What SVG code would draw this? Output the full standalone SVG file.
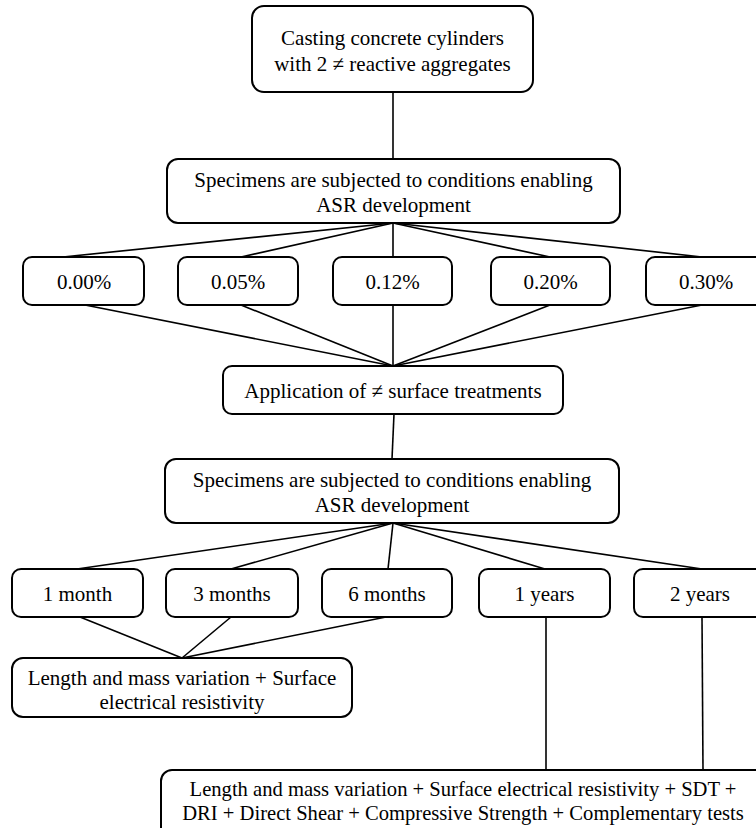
<svg xmlns="http://www.w3.org/2000/svg" width="756" height="828" viewBox="0 0 756 828">
<style>
.box{fill:#fff;stroke:#000;stroke-width:2}
.t{font-family:'Liberation Serif','Tinos','DejaVu Serif',serif;font-size:21px;fill:#000;text-anchor:middle}
.c line{stroke:#000;stroke-width:1.6}
</style>
<rect width="756" height="828" fill="#fff"/>
<g class="c" id="connectors">
<line x1="393" y1="92" x2="393" y2="159"/>
<line x1="393" y1="223" x2="63" y2="257"/>
<line x1="393" y1="223" x2="241" y2="257"/>
<line x1="393" y1="223" x2="393" y2="257"/>
<line x1="393" y1="223" x2="550" y2="257"/>
<line x1="393" y1="223" x2="702" y2="257"/>
<line x1="85" y1="305" x2="393" y2="366"/>
<line x1="241" y1="305" x2="393" y2="366"/>
<line x1="393" y1="305" x2="393" y2="366"/>
<line x1="550" y1="305" x2="393" y2="366"/>
<line x1="702" y1="305" x2="393" y2="366"/>
<line x1="394" y1="414" x2="392" y2="459"/>
<line x1="393" y1="523" x2="77" y2="569"/>
<line x1="393" y1="523" x2="231" y2="569"/>
<line x1="393" y1="523" x2="388" y2="569"/>
<line x1="393" y1="523" x2="545" y2="569"/>
<line x1="393" y1="523" x2="702" y2="569"/>
<line x1="80" y1="617" x2="182" y2="658"/>
<line x1="231" y1="617" x2="182" y2="658"/>
<line x1="386" y1="617" x2="182" y2="658"/>
<line x1="546" y1="617" x2="546" y2="770"/>
<line x1="702" y1="617" x2="703" y2="770"/>
</g>
<g id="casting"><rect class="box" x="252" y="6" width="281" height="86" rx="12"/>
<text class="t" x="392.5" y="45">Casting concrete cylinders</text>
<text class="t" x="392.5" y="71">with 2 ≠ reactive aggregates</text></g>
<g id="asr1"><rect class="box" x="167" y="159" width="453" height="64" rx="11"/>
<text class="t" x="393.5" y="187">Specimens are subjected to conditions enabling</text>
<text class="t" x="393.5" y="212">ASR development</text></g>
<g id="p000"><rect class="box" x="23" y="257" width="121" height="48" rx="9"/><text class="t" x="84" y="289">0.00%</text></g>
<g id="p005"><rect class="box" x="178" y="257" width="120" height="48" rx="9"/><text class="t" x="238" y="289">0.05%</text></g>
<g id="p012"><rect class="box" x="333" y="257" width="119" height="48" rx="9"/><text class="t" x="392.5" y="289">0.12%</text></g>
<g id="p020"><rect class="box" x="491" y="257" width="119" height="48" rx="9"/><text class="t" x="550.5" y="289">0.20%</text></g>
<g id="p030"><rect class="box" x="646" y="257" width="120" height="48" rx="9"/><text class="t" x="706" y="289">0.30%</text></g>
<g id="treat"><rect class="box" x="223" y="366" width="340" height="48" rx="9"/>
<text class="t" x="393" y="398">Application of ≠ surface treatments</text></g>
<g id="asr2"><rect class="box" x="165" y="459" width="454" height="64" rx="11"/>
<text class="t" x="392" y="487">Specimens are subjected to conditions enabling</text>
<text class="t" x="392" y="512">ASR development</text></g>
<g id="m1"><rect class="box" x="12" y="569" width="131" height="48" rx="9"/><text class="t" x="77.5" y="601">1 month</text></g>
<g id="m3"><rect class="box" x="166" y="569" width="132" height="48" rx="9"/><text class="t" x="232" y="601">3 months</text></g>
<g id="m6"><rect class="box" x="322" y="569" width="130" height="48" rx="9"/><text class="t" x="387" y="601">6 months</text></g>
<g id="y1"><rect class="box" x="479" y="569" width="131" height="48" rx="9"/><text class="t" x="544.5" y="601">1 years</text></g>
<g id="y2"><rect class="box" x="634" y="569" width="131" height="48" rx="9"/><text class="t" x="700" y="601">2 years</text></g>
<g id="short"><rect class="box" x="12" y="658" width="340" height="59" rx="11"/>
<text class="t" x="182" y="685">Length and mass variation + Surface</text>
<text class="t" x="182" y="709">electrical resistivity</text></g>
<g id="long"><rect class="box" x="161" y="770" width="605" height="70" rx="11"/>
<text class="t" x="463" y="796" style="font-size:20.6px">Length and mass variation + Surface electrical resistivity + SDT +</text>
<text class="t" x="463" y="820" style="font-size:20.6px">DRI + Direct Shear + Compressive Strength + Complementary tests</text></g>
</svg>
